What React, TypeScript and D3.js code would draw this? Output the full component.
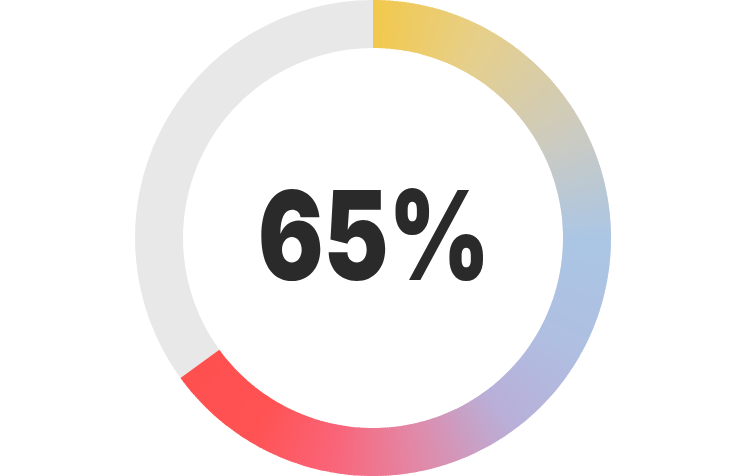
import React, { useEffect, useRef } from 'react';
import * as d3 from 'd3';

const value = 0.65;
const label = '65%';

// colour stops along the arc, in fraction of the full circle
const stopPositions = [0, 0.08, 0.17, 0.25, 0.33, 0.4, 0.47, 0.53, 0.59, 0.65];
const stopColors = ['#f2c94c', '#e6cf8c', '#cdcbbf', '#abc6e4', '#afbfe2', '#b9afd8', '#e387a6', '#fa6478', '#ff5252', '#ff5050'];

const trackColor = '#e8e8e8';

const App: React.FC = () => {
  const svgRef = useRef<SVGSVGElement>(null);

  useEffect(() => {
    if (!svgRef.current) return;
    const svg = d3.select(svgRef.current);
    svg.selectAll('*').remove();

    const width = 750;
    const height = 476;
    const cx = 373;
    const cy = 238;
    const outer = 238;
    const inner = 190;

    const g = svg.append('g').attr('transform', `translate(${cx},${cy})`);
    const tau = Math.PI * 2;

    const arc = d3.arc<{ a0: number; a1: number }>()
      .innerRadius(inner)
      .outerRadius(outer)
      .startAngle(d => d.a0)
      .endAngle(d => d.a1);

    // grey track
    g.append('path')
      .attr('d', arc({ a0: value * tau, a1: tau }) as string)
      .attr('fill', trackColor);

    const color = d3.scaleLinear<string>()
      .domain(stopPositions)
      .range(stopColors)
      .interpolate(d3.interpolateRgb);

    const steps = 360;
    const segs = d3.range(steps).map(i => {
      const f0 = (i / steps) * value;
      const f1 = ((i + 1) / steps) * value;
      return { a0: f0 * tau, a1: Math.min(f1 * tau + 0.004, value * tau), mid: (f0 + f1) / 2 };
    });

    g.selectAll('path.seg')
      .data(segs)
      .join('path')
      .attr('class', 'seg')
      .attr('d', d => arc(d) as string)
      .attr('fill', d => color(d.mid));

    g.append('text')
      .attr('x', 1)
      .attr('y', 42)
      .attr('text-anchor', 'middle')
      .attr('font-family', 'Inter, sans-serif')
      .attr('font-weight', 900)
      .attr('font-size', 124)
      .attr('textLength', 232)
      .attr('lengthAdjust', 'spacingAndGlyphs')
      .attr('fill', '#2a2a2a')
      .text(label);

    svg.attr('width', width).attr('height', height);
  }, []);

  return <svg ref={svgRef} style={{ position: 'absolute', left: 0, top: 0 }} />;
};

export default App;
